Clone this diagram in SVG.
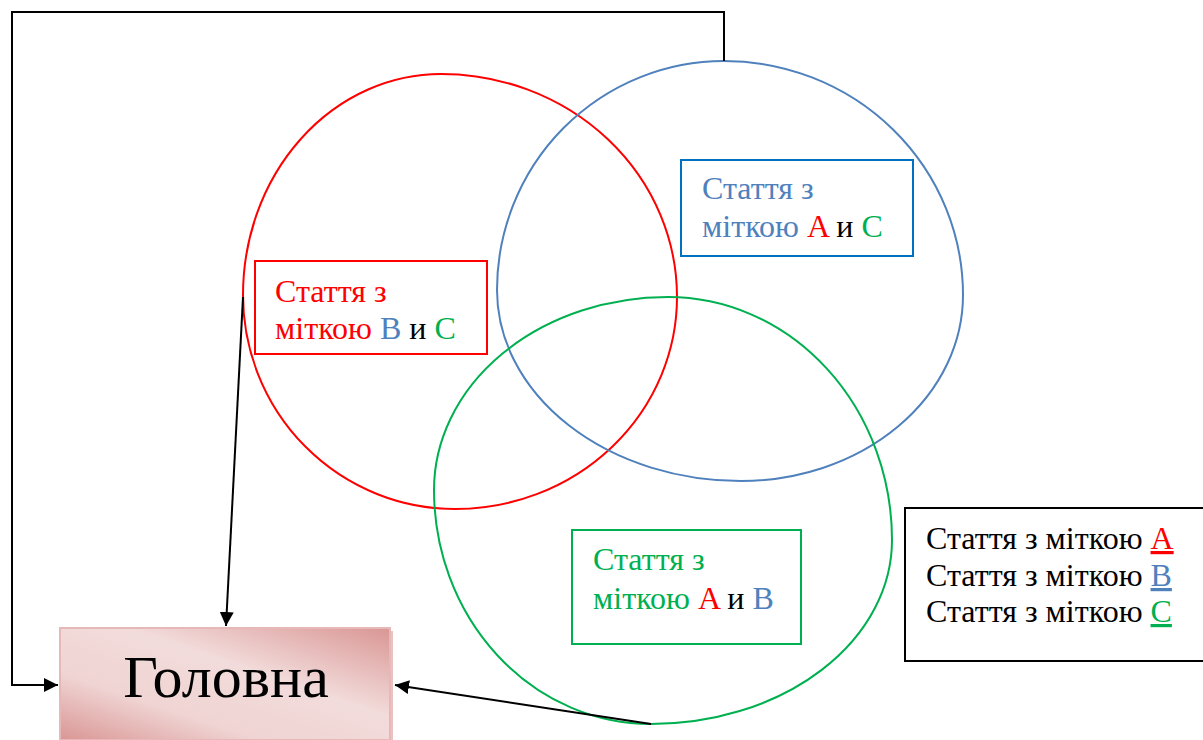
<svg xmlns="http://www.w3.org/2000/svg" width="1203" height="740" viewBox="0 0 1203 740">
<style>
.t{font-family:"Liberation Serif","Times New Roman",serif;font-size:32px}
.circ{fill:none;stroke-width:2}
.con{fill:none;stroke:#000;stroke-width:2}
.r{fill:#ff0000}.b{fill:#4f81bd}.g{fill:#00b050}.k{fill:#000}
</style>
<defs>
<marker id="ah" viewBox="0 0 10 10" refX="10" refY="5" markerWidth="7" markerHeight="7" orient="auto" markerUnits="strokeWidth"><path d="M0,0 L10,5 L0,10 z" fill="#000"/></marker>
<linearGradient id="pg" x1="0" y1="1" x2="1" y2="0">
<stop offset="0" stop-color="#d99694"/>
<stop offset="0.3" stop-color="#efd4d3"/>
<stop offset="0.6" stop-color="#f2dcdb"/>
<stop offset="1" stop-color="#d99694"/>
</linearGradient>
</defs>
<rect width="1203" height="740" fill="#fff"/>
<g id="circle-red">
<path class="circ" stroke="#ff0000" d="M441,74 A236,223 0 0 1 677,297 A222,212 0 0 1 455,509 A212,214 0 0 1 243,295 A198,221 0 0 1 441,74"/>
</g>
<g id="circle-blue">
<path class="circ" stroke="#4f81bd" d="M724,61 A239,234 0 0 1 963,295 A222,186 0 0 1 741,481 A244,191 0 0 1 497,290 A227,229 0 0 1 724,61"/>
</g>
<g id="circle-green">
<path class="circ" stroke="#00b050" d="M668,297 A224,243 0 0 1 892,540 A241,184 0 0 1 651,724 A217,234 0 0 1 434,490 A234,193 0 0 1 668,297"/>
</g>
<g id="connectors">
<polyline class="con" points="724,61 724,12 12,12 12,685 58,685" marker-end="url(#ah)"/>
<line class="con" x1="243" y1="297" x2="226" y2="626" marker-end="url(#ah)"/>
<line class="con" x1="651" y1="724" x2="395" y2="685" marker-end="url(#ah)"/>
</g>
<g id="node-main">
<rect x="63" y="631" width="330" height="112" fill="#c0504d" opacity="0.35"/>
<rect x="60" y="628" width="330" height="112" fill="url(#pg)" stroke="#e6b9b8" stroke-width="2"/>
<text x="226" y="697" text-anchor="middle" font-family="Liberation Serif,Times New Roman,serif" font-size="60" fill="#000">Головна</text>
</g>
<g id="node-bc">
<rect x="255" y="261" width="232" height="93" fill="#fff" stroke="#ff0000" stroke-width="2"/>
<text class="t r" x="275" y="302">Стаття з</text>
<text class="t r" x="275" y="339">міткою <tspan class="b">B</tspan><tspan class="k"> и </tspan><tspan class="g">C</tspan></text>
</g>
<g id="node-ac">
<rect x="681" y="160" width="232" height="96" fill="#fff" stroke="#0070c0" stroke-width="2"/>
<text class="t b" x="702" y="199">Стаття з</text>
<text class="t b" x="702" y="237">міткою <tspan class="r">A</tspan><tspan class="k"> и </tspan><tspan class="g">C</tspan></text>
</g>
<g id="node-ab">
<rect x="572" y="530" width="229" height="114" fill="#fff" stroke="#00b050" stroke-width="2"/>
<text class="t g" x="593" y="570">Стаття з</text>
<text class="t g" x="593" y="609">міткою <tspan class="r">A</tspan><tspan class="k"> и </tspan><tspan class="b">B</tspan></text>
</g>
<g id="legend">
<rect x="905" y="508" width="300" height="153" fill="#fff" stroke="#000" stroke-width="2"/>
<text class="t k" x="926" y="549">Стаття з міткою <tspan class="r" text-decoration="underline">A</tspan></text>
<text class="t k" x="926" y="586">Стаття з міткою <tspan class="b" text-decoration="underline">B</tspan></text>
<text class="t k" x="926" y="622">Стаття з міткою <tspan class="g" text-decoration="underline">C</tspan></text>
</g>
</svg>
